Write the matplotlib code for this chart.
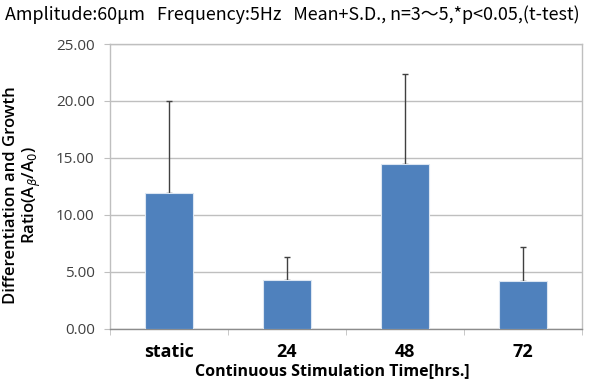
import matplotlib
matplotlib.use("Agg")
import matplotlib.pyplot as plt
import numpy as np

categories = ["static", "24", "48", "72"]
means = [11.93, 4.30, 14.50, 4.24]
sds = [8.10, 2.00, 7.84, 2.93]
yticks = [0, 5, 10, 15, 20, 25]

fig = plt.figure(figsize=[5.9, 3.87], dpi=100)
ax = fig.add_axes([0.1864, 0.1499, 0.8, 0.7364])

x = np.arange(len(categories))
ax.bar(x, means, width=0.4, color="#4f81bd", edgecolor="#dce6f2", linewidth=0.8, zorder=3)
# upper-only error bars; the lower cap sits hidden behind the bar
ax.errorbar(x, means, yerr=[np.zeros(len(sds)), sds], fmt="none", ecolor="#404040",
            elinewidth=1.0, capsize=2, capthick=1.0, zorder=2)

ax.set_xlim(-0.5, len(categories) - 0.5)
ax.set_ylim(0, 25)
ax.set_yticks(yticks)
ax.set_yticklabels(["%.2f" % v for v in yticks], fontsize=11, family="Open Sans", color="#404040")
ax.grid(axis="y", color="#bfbfbf", linewidth=1.0, zorder=0)

# category labels centred on bars, ticks between categories
ax.set_xticks(x)
ax.set_xticklabels(categories, fontsize=13, fontweight="bold", family="Open Sans")
ax.tick_params(axis="x", length=0, pad=10)
ax.set_xticks(np.arange(len(categories) + 1) - 0.5, minor=True)
ax.tick_params(axis="x", which="minor", length=4, color="#bfbfbf", direction="out")
ax.tick_params(axis="y", length=4, color="#bfbfbf", pad=7)

for s in ax.spines.values():
    s.set_color("#bfbfbf")
    s.set_linewidth(1.0)
ax.spines["bottom"].set_color("#8c8c8c")

ax.set_xlabel("Continuous Stimulation Time[hrs.]", fontsize=11.5, fontweight="bold",
              family="Open Sans")
ax.xaxis.set_label_coords(0.47, -0.12)
ax.set_ylabel("Differentiation and Growth\nRatio(A$_{\\beta}$/A$_0$)", fontsize=12,
              family="Open Sans", fontweight="semibold", linespacing=1.1)
ax.yaxis.set_label_coords(-0.142, 0.47)

fig.text(0.008, 0.962, "Amplitude:60μm   Frequency:5Hz   Mean+S.D., n=3〜5,*p<0.05,(t-test)",
         fontsize=12.9, family=["Noto Sans CJK JP", "DejaVu Sans"], va="center", ha="left")

fig.savefig("out.png", dpi=100)
